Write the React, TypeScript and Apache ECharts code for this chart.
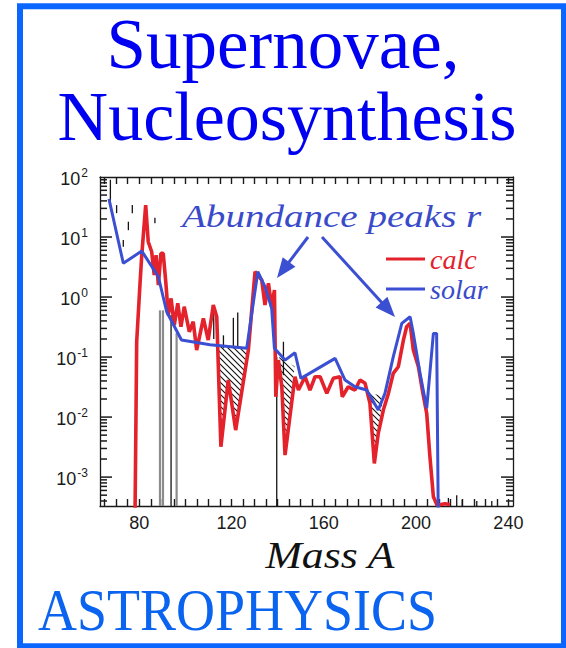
import React, { useEffect, useRef } from 'react';
import * as echarts from 'echarts';

// ---- axis ranges ----
const X_MIN = 63;
const X_MAX = 242;
const Y_MIN = 3.3e-4;
const Y_MAX = 100;
const BOTTOM = Y_MIN;

// ---- tick labels ----
const xTickLabels = [80, 120, 160, 200, 240];
const xTickValues = [65, 70, 75, 80, 85, 90, 95, 100, 105, 110, 115, 120, 125, 130, 135, 140, 145, 150, 155, 160, 165, 170, 175, 180, 185, 190, 195, 200, 205, 210, 215, 220, 225, 230, 235, 240];
const yMajorTicks = [1e-3, 1e-2, 1e-1, 1, 10];
const logDecades = [1e-4, 1e-3, 1e-2, 1e-1, 1, 10];
const logMultipliers = [2, 3, 4, 5, 6, 7, 8, 9];

// ---- solar r-process abundances ----
const solarMass = [66.9, 73.1, 81.1, 88.3, 91.9, 98.3, 110.7, 126.6, 131.4, 134.5, 137.4, 138.6, 143.2, 147.5, 150.1, 164.9, 169.2, 173.5, 178.6, 183.6, 186.5, 190.1, 193.8, 197.4, 198.8, 201.7, 204.6, 207.5, 208.9, 209.6];
const solarAbund = [43, 3.65, 5.84, 2.18, 0.569, 0.192, 0.16, 0.14, 2.64, 1.49, 0.648, 0.14, 0.089, 0.118, 0.0442, 0.095, 0.0414, 0.032, 0.0282, 0.0131, 0.0248, 0.101, 0.364, 0.47, 0.248, 0.0535, 0.014, 0.248, 0.248, 0.00025];

// ---- calculated abundances ----
const calcMass = [78.2, 78.9, 80.3, 81.1, 82.8, 83.9, 85.4, 86.5, 87.3, 88.3, 89.4, 90.4, 91.5, 92.6, 93.8, 95.2, 96.7, 98.1, 99.5, 101.7, 103.4, 104.9, 107.8, 109.9, 112.1, 113.6, 115.4, 118.6, 121.8, 127.3, 130.2, 133.1, 134.5, 136.0, 137.4, 138.6, 139.2, 140.3, 141.8, 143.2, 147.5, 149.0, 151.9, 154.0, 156.2, 158.4, 161.3, 164.1, 167.0, 168.0, 170.6, 173.5, 175.7, 177.9, 180.0, 181.9, 183.6, 185.8, 188.0, 190.1, 192.3, 194.5, 195.9, 197.4, 198.8, 201.0, 202.7, 204.6, 206.0, 207.5, 209.1, 212.5, 214.7];
const calcAbund = [0.00028, 0.18, 1.58, 5.0, 34.1, 8.35, 5.69, 2.33, 5.0, 1.58, 5.35, 5.35, 1.8, 0.5, 0.95, 0.341, 0.785, 0.32, 0.69, 0.264, 0.388, 0.131, 0.442, 0.192, 0.735, 0.47, 0.0032, 0.0414, 0.00607, 0.131, 2.64, 1.92, 0.735, 1.69, 0.69, 1.31, 0.0218, 0.089, 0.032, 0.00233, 0.047, 0.0282, 0.047, 0.0282, 0.047, 0.047, 0.0248, 0.0442, 0.047, 0.0218, 0.032, 0.0282, 0.0414, 0.0365, 0.0169, 0.00169, 0.00535, 0.0131, 0.0248, 0.0535, 0.069, 0.192, 0.32, 0.364, 0.131, 0.069, 0.0282, 0.0115, 0.00218, 0.00047, 0.00034, 0.00036, 0.00035];

// ---- observed data points with error bars ----
const errMass = [67.5, 70.2, 73.1, 75.3, 77.0, 86.8, 93.8, 112.3, 116.5, 120.8, 122.7, 139.6, 142.5, 214.0, 217.6, 220.0, 226.3, 232.8];
const errLow = [40, 25, 6.9, 13, 25, 17, BOTTOM, 0.2, 0.14, 0.14, 0.15, BOTTOM, 0.05, BOTTOM, BOTTOM, BOTTOM, BOTTOM, BOTTOM];
const errHigh = [90, 34, 8.9, 18, 34, 21, 0.5, 0.6, 0.23, 0.45, 0.55, 0.1, 0.18, 4.5e-4, 5e-4, 4.2e-4, 4e-4, 4e-4];
const greyMass = [89.0, 90.3, 96.2];
const greyLow = [BOTTOM, BOTTOM, BOTTOM];
const greyHigh = [0.6, 0.6, 0.25];

// ---- under-produced (hatched) regions ----
const hatchRegion1 = [[114.4, 0.15], [126.9, 0.14], [121.8, 0.0061], [118.6, 0.041], [115.4, 0.0032]];
const hatchRegion2 = [[140.5, 0.1], [147.3, 0.07], [143.2, 0.0023], [141.6, 0.03]];
const hatchRegion3 = [[179.5, 0.026], [185.8, 0.022], [183.6, 0.0054], [181.9, 0.0017]];
const hatchRegions = [hatchRegion1, hatchRegion2, hatchRegion3];

const RED = '#e3222b';
const BLUE = '#3b4fd2';
const TEXT_BLUE = '#3a4bca';
const FRAME_BLUE = '#0a66ff';
const INK = '#1a1a1a';

function arrow(x1: number, y1: number, x2: number, y2: number) {
  const dx = x2 - x1;
  const dy = y2 - y1;
  const len = Math.hypot(dx, dy);
  const ux = dx / len;
  const uy = dy / len;
  const hl = 20;
  const hw = 8;
  const bx = x2 - ux * hl;
  const by = y2 - uy * hl;
  return [
    { type: 'line', z: 50, shape: { x1, y1, x2: bx + ux * 3, y2: by + uy * 3 }, style: { stroke: BLUE, lineWidth: 3 } },
    { type: 'polygon', z: 50, shape: { points: [[x2, y2], [bx - uy * hw, by + ux * hw], [bx + uy * hw, by - ux * hw]] }, style: { fill: BLUE } },
  ];
}

export default function App() {
  const ref = useRef<HTMLDivElement>(null);
  useEffect(() => {
    if (!ref.current) return;
    const chart = echarts.init(ref.current, null, { renderer: 'svg' });

    const hatchCanvas = document.createElement('canvas');
    hatchCanvas.width = 6;
    hatchCanvas.height = 6;
    const ctx = hatchCanvas.getContext('2d');
    if (ctx) {
      ctx.strokeStyle = '#111';
      ctx.lineWidth = 1.1;
      ctx.beginPath();
      ctx.moveTo(0, 0); ctx.lineTo(6, 6);
      ctx.moveTo(-1, 5); ctx.lineTo(1, 7);
      ctx.moveTo(5, -1); ctx.lineTo(7, 1);
      ctx.stroke();
    }
    const hatchFill: any = { image: hatchCanvas, repeat: 'repeat' };

    // y tick marks: [value, length in px]
    const yTicks: number[][] = yMajorTicks.map((v) => [v, 12]);
    logDecades.forEach((d) => logMultipliers.forEach((m) => {
      const v = d * m;
      if (v > Y_MIN && v < Y_MAX) yTicks.push([v, 7]);
    }));

    const solar = solarMass.map((a, i) => [a, solarAbund[i]]);
    const calc = calcMass.map((a, i) => [a, calcAbund[i]]);
    const errData = errMass.map((a, i) => [a, errLow[i], errHigh[i]]);
    const greyData = greyMass.map((a, i) => [a, greyLow[i], greyHigh[i]]);

    const barRenderer = (color: string, width: number) => (params: any, api: any) => {
      const p1 = api.coord([api.value(0), api.value(1)]);
      const p2 = api.coord([api.value(0), api.value(2)]);
      return { type: 'line', shape: { x1: p1[0], y1: p1[1], x2: p2[0], y2: p2[1] }, style: { stroke: color, lineWidth: width } };
    };

    const axisLine = { show: true, onZero: false, lineStyle: { color: INK, width: 1.3 } };

    const yLabelFormatter = (v: number) => {
      const e = Math.log10(v);
      const r = Math.round(e);
      if (Math.abs(e - r) > 1e-6) return '';
      return `{b|10}{e|${r}}`;
    };

    const option: any = {
      animation: false,
      backgroundColor: '#ffffff',
      textStyle: { fontFamily: 'Liberation Sans' },
      grid: { left: 100, top: 177, width: 413, height: 329, show: false },
      legend: {
        orient: 'vertical',
        left: 381,
        top: 240,
        itemWidth: 39,
        itemHeight: 3,
        itemGap: 2,
        icon: 'rect',
        selectedMode: false,
        data: [
          { name: 'calc', textStyle: { color: RED } },
          { name: 'solar', textStyle: { color: TEXT_BLUE } },
        ],
        textStyle: { fontFamily: 'Liberation Serif', fontStyle: 'italic', fontSize: 28, lineHeight: 28 },
      },
      xAxis: [
        {
          type: 'value', position: 'bottom', min: X_MIN, max: X_MAX,
          axisLine,
          axisTick: { show: true, inside: true, length: 7, customValues: xTickValues, lineStyle: { color: INK, width: 1.4 } },
          axisLabel: { customValues: xTickLabels, fontSize: 18, color: '#1a1a1a', margin: 8, fontFamily: 'Liberation Sans' },
          splitLine: { show: false },
        },
        {
          type: 'value', position: 'top', min: X_MIN, max: X_MAX,
          axisLine,
          axisTick: { show: true, inside: true, length: 7, customValues: xTickValues, lineStyle: { color: INK, width: 1.4 } },
          axisLabel: { show: false },
          splitLine: { show: false },
        },
      ],
      yAxis: [
        {
          type: 'log', logBase: 10, min: Y_MIN, max: Y_MAX,
          axisLine,
          axisTick: { show: false },
          axisLabel: {
            formatter: yLabelFormatter,
            margin: 12,
            showMaxLabel: true,
            rich: {
              b: { fontSize: 18, color: '#1a1a1a', fontFamily: 'Liberation Sans', verticalAlign: 'bottom' },
              e: { fontSize: 12, color: '#1a1a1a', fontFamily: 'Liberation Sans', verticalAlign: 'bottom', padding: [0, 0, 9, 1] },
            },
          },
          splitLine: { show: false },
        },
        {
          type: 'log', logBase: 10, min: Y_MIN, max: Y_MAX, position: 'right',
          axisLine,
          axisTick: { show: false },
          axisLabel: { show: false },
          splitLine: { show: false },
        },
      ],
      series: [
        {
          name: 'hatch', type: 'custom', silent: true, z: 1,
          data: hatchRegions.map((r) => r[0]),
          renderItem: (params: any, api: any) => {
            const poly = hatchRegions[params.dataIndex];
            return { type: 'polygon', shape: { points: poly.map((p) => api.coord(p)) }, style: { fill: hatchFill, stroke: 'none' } };
          },
        },
        {
          name: 'data (uncertain)', type: 'custom', silent: true, z: 2,
          data: greyData, encode: { x: 0, y: [1, 2] },
          renderItem: barRenderer('#8c8c8c', 2.2),
        },
        {
          name: 'data', type: 'custom', silent: true, z: 2,
          data: errData, encode: { x: 0, y: [1, 2] },
          renderItem: barRenderer('#141414', 1.3),
        },
        {
          name: 'calc', type: 'line', data: calc, symbol: 'none', z: 3,
          lineStyle: { color: RED, width: 3.6 }, itemStyle: { color: RED },
        },
        {
          name: 'solar', type: 'line', data: solar, symbol: 'none', z: 4,
          lineStyle: { color: BLUE, width: 3 }, itemStyle: { color: BLUE },
        },
        {
          name: 'y ticks', type: 'custom', silent: true, z: 10,
          data: yTicks.map((t) => [X_MIN, t[0], t[1]]),
          encode: { x: 0, y: 1 },
          renderItem: (params: any, api: any) => {
            const v = api.value(1);
            const len = api.value(2);
            const pl = api.coord([X_MIN, v]);
            const pr = api.coord([X_MAX, v]);
            return {
              type: 'group',
              children: [
                { type: 'rect', shape: { x: pl[0], y: pl[1] - 0.75, width: len, height: 1.5 }, style: { fill: INK } },
                { type: 'rect', shape: { x: pr[0] - len, y: pr[1] - 0.75, width: len, height: 1.5 }, style: { fill: INK } },
              ],
            };
          },
        },
      ],
      graphic: [
        { type: 'rect', z: 60, shape: { x: 20, y: 6.3, width: 544, height: 640 }, style: { fill: 'none', stroke: FRAME_BLUE, lineWidth: 6 } },
        { type: 'text', z: 60, x: 283, y: 44, style: { text: 'Supernovae,', fill: '#0000f0', fontFamily: 'Liberation Serif', fontSize: 71, align: 'center', verticalAlign: 'middle' } },
        { type: 'text', z: 60, x: 287, y: 116, style: { text: 'Nucleosynthesis', fill: '#0000f0', fontFamily: 'Liberation Serif', fontSize: 70, align: 'center', verticalAlign: 'middle' } },
        { type: 'text', z: 60, x: 38, y: 610, scaleX: 0.9, style: { text: 'ASTROPHYSICS', fill: '#0a64f0', fontFamily: 'Liberation Serif', fontSize: 60, align: 'left', verticalAlign: 'middle' } },
        { type: 'text', z: 60, x: 330, y: 555, scaleX: 1.15, style: { text: 'Mass A', fill: '#111', fontFamily: 'Liberation Serif', fontStyle: 'italic', fontSize: 38, align: 'center', verticalAlign: 'middle' } },
        { type: 'text', z: 60, x: 182, y: 217, scaleX: 1.26, style: { text: 'Abundance peaks r', fill: TEXT_BLUE, fontFamily: 'Liberation Serif', fontStyle: 'italic', fontSize: 31, align: 'left', verticalAlign: 'middle' } },
        ...arrow(308, 237, 277, 278),
        ...arrow(322, 237, 395, 317),
      ],
    };

    chart.setOption(option);
    return () => chart.dispose();
  }, []);

  return <div ref={ref} style={{ position: 'fixed', left: 0, top: 0, width: 566, height: 648, background: '#fff' }} />;
}
